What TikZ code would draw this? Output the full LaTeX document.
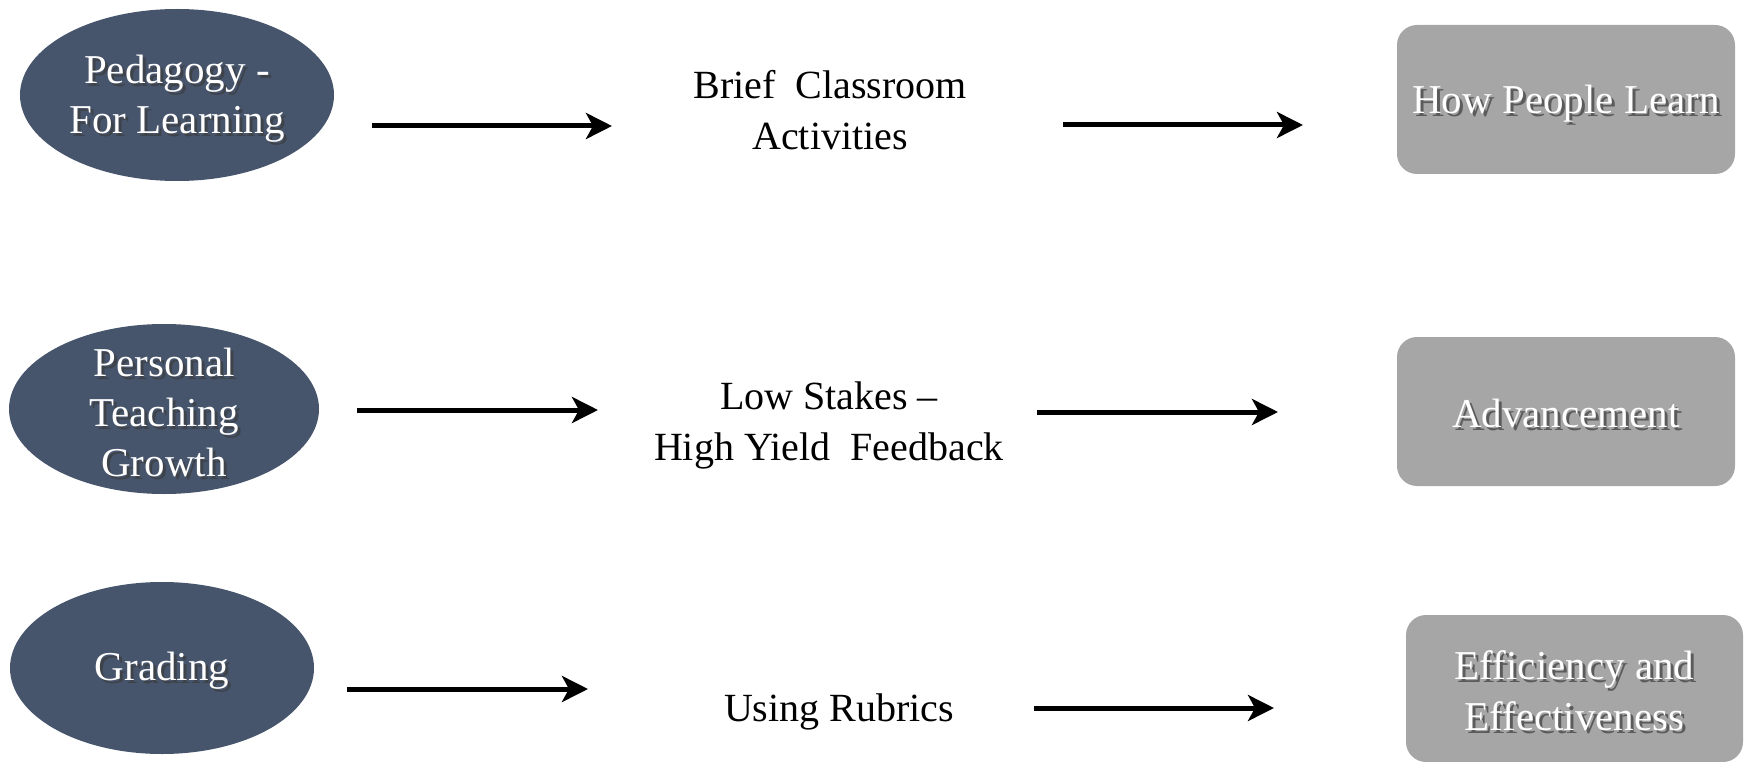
\documentclass[tikz,border=0pt]{standalone}
\usepackage{fontspec}
\setmainfont{Liberation Serif}
\usetikzlibrary{shapes.geometric,arrows.meta,calc}
\definecolor{slate}{RGB}{70,84,108}
\definecolor{boxgray}{RGB}{166,166,166}
\definecolor{shade}{RGB}{60,60,60}
\tikzset{
  ell/.style={ellipse, fill=slate, inner sep=0pt},
  gbox/.style={rectangle, rounded corners=20pt, fill=boxgray, inner sep=0pt},
  wtxt/.style={text=white, align=center, font=\fontsize{41}{50}\selectfont, inner sep=0pt},
  stxt/.style={text=shade, align=center, font=\fontsize{41}{50}\selectfont, inner sep=0pt, opacity=0.7},
  btxt/.style={text=white, align=center, font=\fontsize{41}{51}\selectfont, inner sep=0pt},
  bstxt/.style={text=shade, align=center, font=\fontsize{41}{51}\selectfont, inner sep=0pt, opacity=0.7},
  mtxt/.style={text=black, align=center, font=\fontsize{40}{51}\selectfont, inner sep=0pt},
  arr/.style={line width=5pt, -{Stealth[length=26pt,width=26pt,inset=7pt]}}
}
\begin{document}
\begin{tikzpicture}[x=1pt,y=-1pt]
\useasboundingbox (0,0) rectangle (1745,762);
% ellipses
\node[ell, minimum width=314pt, minimum height=172pt] (e1) at (177,95) {};
\node[ell, minimum width=310pt, minimum height=170pt] (e2) at (164,409) {};
\node[ell, minimum width=304pt, minimum height=172pt] (e3) at (162,668) {};
\node[stxt] at ($(e1)+(3,7)$) {Pedagogy -\\For Learning};
\node[wtxt] (t1) at ($(e1)+(0,4)$) {Pedagogy -\\For Learning};
\node[stxt] at ($(e2)+(3,6)$) {Personal\\Teaching\\Growth};
\node[wtxt] (t2) at ($(e2)+(0,3)$) {Personal\\Teaching\\Growth};
\node[stxt] at ($(e3)+(3,6)$) {Grading};
\node[wtxt] (t3) at ($(e3)+(0,3)$) {Grading};
% boxes
\node[gbox, minimum width=338pt, minimum height=149pt] (b1) at (1566,99.5) {};
\node[gbox, minimum width=338pt, minimum height=149pt] (b2) at (1566,411.5) {};
\node[gbox, minimum width=337pt, minimum height=147pt] (b3) at (1574.5,688.5) {};
\node[bstxt] at ($(b1)+(3,7)$) {How People Learn};
\node[btxt] (u1) at ($(b1)+(0,4)$) {How People Learn};
\node[bstxt] at ($(b2)+(3,5)$) {Advancement};
\node[btxt] (u2) at ($(b2)+(0,2)$) {Advancement};
\node[bstxt] at ($(b3)+(3,5)$) {Efficiency and\\Effectiveness};
\node[btxt] (u3) at ($(b3)+(0,2)$) {Efficiency and\\Effectiveness};
% middle texts
\node[mtxt] (m1) at (830,110) {Brief\ \ Classroom\\Activities};
\node[mtxt] (m2) at (829,425) {Low Stakes –\\High Yield\ \ Feedback};
\node[mtxt] (m3) at (839,712) {Using Rubrics};
% arrow coordinates
\coordinate (a1s) at (372,126); \coordinate (a1e) at (612,126);
\coordinate (c1s) at (1063,125); \coordinate (c1e) at (1303,125);
\coordinate (a2s) at (357,410); \coordinate (a2e) at (598,410);
\coordinate (c2s) at (1037,412); \coordinate (c2e) at (1278,412);
\coordinate (a3s) at (347,689); \coordinate (a3e) at (588,689);
\coordinate (c3s) at (1034,708); \coordinate (c3e) at (1274,708);
\draw[arr] (a1s) -- (a1e);
\draw[arr] (c1s) -- (c1e);
\draw[arr] (a2s) -- (a2e);
\draw[arr] (c2s) -- (c2e);
\draw[arr] (a3s) -- (a3e);
\draw[arr] (c3s) -- (c3e);
\end{tikzpicture}
\end{document}
